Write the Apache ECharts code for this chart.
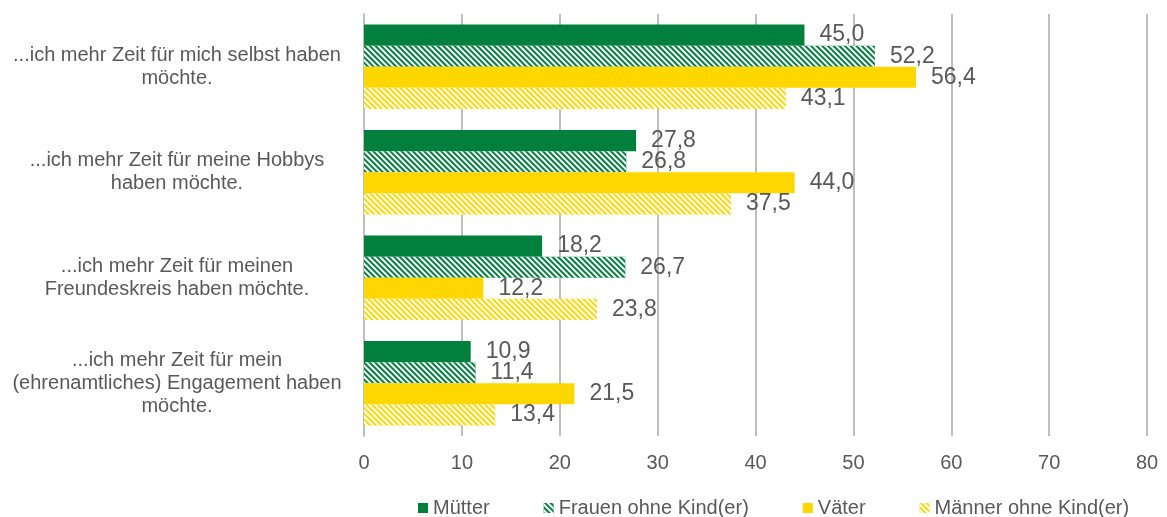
<!DOCTYPE html>
<html>
<head>
<meta charset="utf-8">
<script src="https://cdn.jsdelivr.net/npm/echarts@6/dist/echarts.min.js"></script>
<style>
	html, body { margin: 0; padding: 0; background: #fff; }
	#chart { width: 1167px; height: 517px; }
</style>
</head>
<body>
<div id="chart"></div>
<script>
var categories = [
	"...ich mehr Zeit für mich selbst haben\nmöchte.",
	"...ich mehr Zeit für meine Hobbys\nhaben möchte.",
	"...ich mehr Zeit für meinen\nFreundeskreis haben möchte.",
	"...ich mehr Zeit für mein\n(ehrenamtliches) Engagement haben\nmöchte."
];
var seriesNames = ["Mütter", "Frauen ohne Kind(er)", "Väter", "Männer ohne Kind(er)"];
var muetter = [45.0, 27.8, 18.2, 10.9];
var frauenOhneKind = [52.2, 26.8, 26.7, 11.4];
var vaeter = [56.4, 44.0, 12.2, 21.5];
var maennerOhneKind = [43.1, 37.5, 23.8, 13.4];
var xTicks = [0, 10, 20, 30, 40, 50, 60, 70, 80];

var green = "#00803c";
var yellow = "#ffd700";
var textColor = "#595959";
var fontName = "'Liberation Sans', Arial, sans-serif";

// schraffur wie im original (diagonale streifen)
function stripes() {
	return {
		symbol: "rect",
		color: "#ffffff",
		dashArrayX: [1, 0],
		dashArrayY: [2, 2],
		rotation: Math.PI / 4
	};
}

function makeSeries(name, data, color, hatched) {
	var itemStyle = { color: color };
	if (hatched) {
		itemStyle.decal = stripes();
	}
	return {
		name: name,
		type: "bar",
		data: data,
		barCategoryGap: "20%",
		barGap: "0%",
		itemStyle: itemStyle,
		label: {
			show: true,
			position: "right",
			distance: 15,
			color: textColor,
			fontSize: 23,
			fontFamily: fontName,
			formatter: function (p) {
				return p.value.toFixed(1).replace(".", ",");
			}
		}
	};
}

var chart = echarts.init(document.getElementById("chart"));
chart.setOption({
	animation: false,
	backgroundColor: "#ffffff",
	grid: {
		left: 364,
		right: 20,
		top: 14,
		bottom: 81
	},
	legend: {
		top: 493,
		left: 413,
		itemWidth: 10,
		itemHeight: 10,
		itemGap: 54,
		icon: "rect",
		textStyle: {
			color: textColor,
			fontSize: 20,
			fontFamily: fontName
		},
		data: seriesNames
	},
	xAxis: {
		type: "value",
		min: xTicks[0],
		max: xTicks[xTicks.length - 1],
		interval: 10,
		axisLine: { show: false },
		axisTick: { show: false },
		axisLabel: {
			color: textColor,
			fontSize: 20,
			fontFamily: fontName,
			margin: 17
		},
		splitLine: {
			lineStyle: { color: "#bfbfbf", width: 2 }
		}
	},
	yAxis: {
		type: "category",
		inverse: true,
		data: categories,
		axisLine: {
			show: true,
			lineStyle: { color: "#bfbfbf", width: 2 }
		},
		axisTick: { show: false },
		axisLabel: {
			color: textColor,
			fontSize: 20,
			lineHeight: 23,
			fontFamily: fontName,
			align: "center",
			margin: 187
		}
	},
	series: [
		makeSeries(seriesNames[0], muetter, green, false),
		makeSeries(seriesNames[1], frauenOhneKind, green, true),
		makeSeries(seriesNames[2], vaeter, yellow, false),
		makeSeries(seriesNames[3], maennerOhneKind, yellow, true)
	]
});
</script>
</body>
</html>
